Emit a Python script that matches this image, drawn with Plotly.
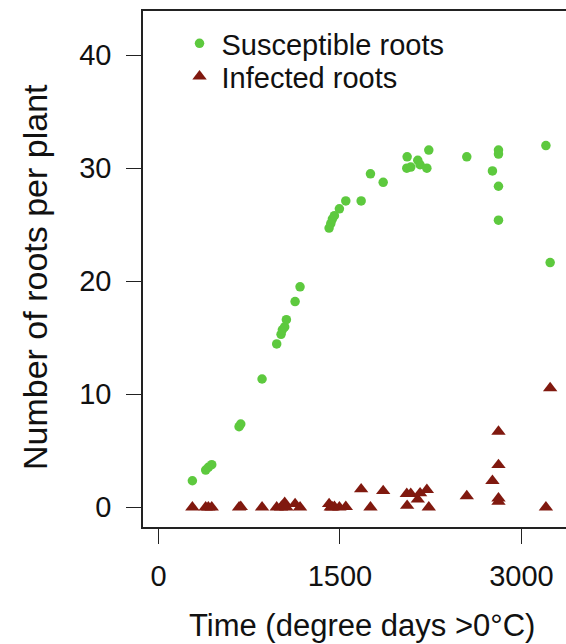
import plotly.graph_objects as go

# Thermal time of each sampling (degree days above 0 °C)
degree_days = [280, 390, 412, 440, 666, 680, 856, 977, 1013, 1024, 1043, 1057,
               1129, 1170, 1410, 1424, 1437, 1454, 1495, 1548, 1675, 1752,
               1857, 2052, 2085, 2055, 2143, 2162, 2218, 2234, 2548, 2760,
               2810, 2810, 2810, 2810, 3202, 3237]

# Mean number of roots per plant
susceptible_roots = [2.35, 3.3, 3.54, 3.77, 7.13, 7.37, 11.35, 14.45, 15.3, 15.7,
                     15.96, 16.6, 18.2, 19.5, 24.7, 25.1, 25.5, 25.8, 26.4, 27.1,
                     27.1, 29.5, 28.75, 30.0, 30.1, 31.0, 30.7, 30.3, 30.0, 31.6,
                     31.0, 29.75, 31.6, 31.25, 28.4, 25.4, 32.0, 21.65]
infected_roots = [0.0, 0.0, 0.0, 0.0, 0.0, 0.05, 0.0, 0.0, 0.0, 0.15,
                  0.4, 0.0, 0.3, 0.0, 0.3, 0.0, 0.0, 0.05, 0.0, 0.05,
                  1.6, 0.0, 1.45, 1.2, 1.2, 0.15, 0.7, 1.25, 1.55, 0.0,
                  1.0, 2.35, 6.7, 3.75, 0.8, 0.5, 0.0, 10.55]

x_ticks = [0, 1500, 3000]
y_ticks = [0, 10, 20, 30, 40]

x_title = "Time (degree days >0°C)"
y_title = "Number of roots per plant"

GREEN = "#5DC93E"
DARK_RED = "#80190F"
FONT = "Liberation Sans, Arial, sans-serif"

fig = go.Figure()
fig.add_trace(go.Scatter(
    x=degree_days, y=susceptible_roots, mode="markers",
    name="Susceptible roots", legend="legend",
    marker=dict(symbol="circle", size=9.5, color=GREEN, line=dict(width=0)),
))
fig.add_trace(go.Scatter(
    x=degree_days, y=infected_roots, mode="markers",
    name="Infected roots", legend="legend2",
    marker=dict(symbol="triangle-up", size=12.5, color=DARK_RED, line=dict(width=0)),
))

axis_common = dict(
    showgrid=False, zeroline=False, showline=True, linecolor="#222222",
    linewidth=1.5, ticks="outside", ticklen=15, tickwidth=1.2, tickcolor="#222222",
    tickfont=dict(family=FONT, size=29, color="#111111"),
)

legend_common = dict(
    xanchor="left", yanchor="top", bgcolor="rgba(0,0,0,0)", borderwidth=0,
    font=dict(family=FONT, size=29, color="#111111"), itemwidth=34,
)

fig.update_layout(
    width=566, height=644,
    margin=dict(l=143, r=0, t=11, b=117),
    paper_bgcolor="white", plot_bgcolor="white",
    font=dict(family=FONT, color="#111111"),
    xaxis=dict(
        range=[-128, 3368], tickvals=x_ticks, ticktext=[str(v) for v in x_ticks],
        mirror=True, ticklabelstandoff=7,
        **axis_common,
    ),
    yaxis=dict(
        range=[-1.74, 43.9], tickvals=y_ticks, ticktext=[str(v) for v in y_ticks],
        mirror=False, ticklabelstandoff=9,
        **axis_common,
    ),
    showlegend=True,
    legend=dict(x=0.0816, y=0.9864, **legend_common),
    legend2=dict(x=0.0816, y=0.9225, **legend_common),
    annotations=[
        # axis titles, centred on the full plotting region
        dict(text=x_title, xref="paper", yref="paper", x=0.5176, y=-0.19,
             xanchor="center", yanchor="middle", showarrow=False,
             font=dict(family=FONT, size=31, color="#111111")),
        dict(text=y_title, xref="paper", yref="paper", x=-0.2553, y=0.4845,
             xanchor="center", yanchor="middle", showarrow=False, textangle=-90,
             font=dict(family=FONT, size=34, color="#111111")),
    ],
)

fig.write_html("out.html")
